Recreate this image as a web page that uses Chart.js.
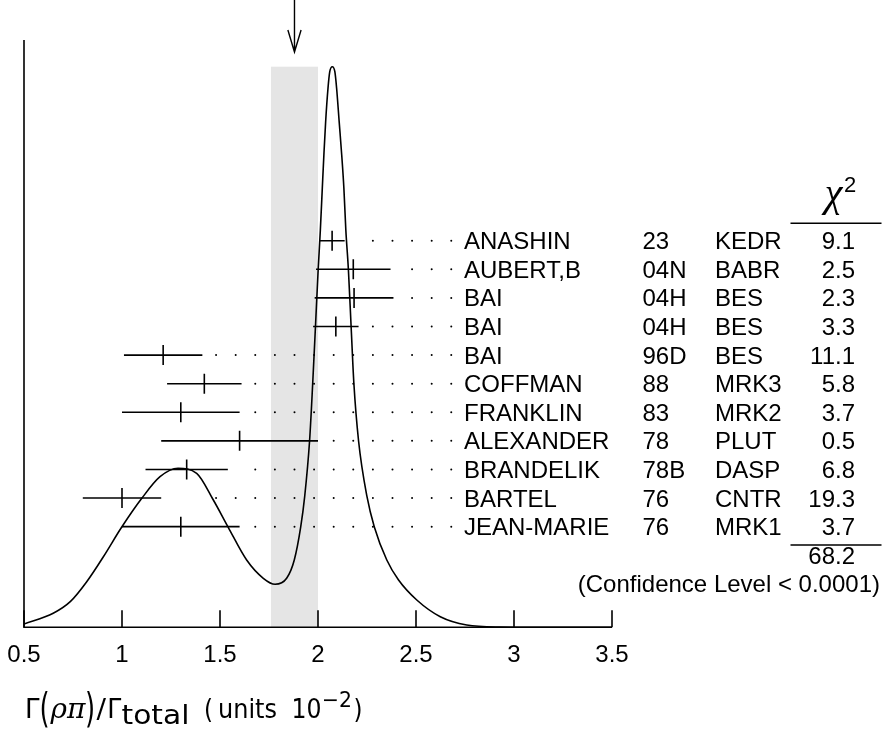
<!DOCTYPE html>
<html>
<head>
<meta charset="utf-8">
<script src="https://cdn.jsdelivr.net/npm/chart.js@4/dist/chart.umd.min.js"></script>
<style>
  html, body { margin: 0; padding: 0; background: #fff; }
  canvas { display: block; }
</style>
</head>
<body>
<canvas id="c" width="883" height="733"></canvas>
<script>
// Measurements of Γ(ρπ)/Γtotal, in units of 10^-2
const AUTHORS = ['ANASHIN', 'AUBERT,B', 'BAI', 'BAI', 'BAI', 'COFFMAN', 'FRANKLIN', 'ALEXANDER', 'BRANDELIK', 'BARTEL', 'JEAN-MARIE'];
const YEARS   = ['23', '04N', '04H', '04H', '96D', '88', '83', '78', '78B', '76', '76'];
const EXPTS   = ['KEDR', 'BABR', 'BES', 'BES', 'BES', 'MRK3', 'MRK2', 'PLUT', 'DASP', 'CNTR', 'MRK1'];
const VALUES  = [2.072, 2.18, 2.184, 2.091, 1.21, 1.42, 1.30, 1.60, 1.33, 1.00, 1.30];
const ERRORS  = [0.064, 0.19, 0.201, 0.116, 0.20, 0.19, 0.30, 0.40, 0.21, 0.20, 0.30];
const CHI2    = ['9.1', '2.5', '2.3', '3.3', '11.1', '5.8', '3.7', '0.5', '6.8', '19.3', '3.7'];
const CHI2_TOTAL = '68.2';
const CONFIDENCE = '(Confidence Level < 0.0001)';

// Weighted average and its (scaled) error
const AVERAGE = 1.88;
const AVERAGE_ERR = 0.12;

// Ideogram curve (relative height, peak = 100)
const CURVE_X = [0.500, 0.649, 0.736, 0.820, 0.905, 0.998, 1.101, 1.194, 1.286, 1.381, 1.466, 1.542, 1.636, 1.721, 1.781, 1.840,
                 1.879, 1.912, 1.932, 1.957, 1.973, 1.987, 2.001, 2.012, 2.022, 2.030, 2.039, 2.051, 2.060, 2.073,
                 2.086, 2.095, 2.108, 2.121, 2.132, 2.142, 2.155, 2.169, 2.183, 2.207, 2.250, 2.287, 2.351, 2.411,
                 2.504, 2.624, 2.759, 2.930, 3.185, 3.500];
const CURVE_Y = [0.59, 2.50, 4.57, 8.13, 12.59, 17.84, 23.01, 26.86, 28.36, 27.47, 22.71, 17.84, 12.00, 8.74, 7.67, 8.74,
                 12.00, 17.95, 23.30, 33.23, 43.52, 53.62, 63.86, 70.87, 78.36, 84.25, 90.19, 96.15, 99.11, 100.00,
                 99.11, 96.15, 90.19, 84.25, 78.36, 70.87, 63.86, 53.62, 43.52, 33.23, 23.30, 17.95, 12.00, 8.44,
                 4.87, 1.89, 0.41, 0.05, 0.00, 0.00];

const X_TICKS = [0.5, 1, 1.5, 2, 2.5, 3, 3.5];
const X_TICK_LABELS = ['0.5', '1', '1.5', '2', '2.5', '3', '3.5'];

// Leader-dot grid (0.1 spacing)
const DOT_FIRST = 1.48, DOT_LAST = 2.68, DOT_STEP = 0.1, DOT_GAP = 0.06;

const INK = '#000';
const LW = 1.6;
const SANS = '"Liberation Sans", Arial, Helvetica, sans-serif';

const rows = AUTHORS.map((_, i) => i);

const errorBarSets = rows.map(i => ({
  data: [{ x: VALUES[i] - ERRORS[i], y: i }, { x: VALUES[i] + ERRORS[i], y: i }],
  yAxisID: 'row', showLine: true, borderColor: INK, borderWidth: LW,
  pointRadius: 0, pointHoverRadius: 0
}));

const leaderDots = [];
rows.forEach(i => {
  const hi = VALUES[i] + ERRORS[i];
  for (let k = 0; ; k++) {
    const v = +(DOT_FIRST + DOT_STEP * k).toFixed(2);
    if (v > DOT_LAST + 1e-9) break;
    if (v >= hi + DOT_GAP) leaderDots.push({ x: v, y: i });
  }
});

// draw text squeezed or stretched horizontally to a given width
function fitText(ctx, text, x, y, width) {
  const w = ctx.measureText(text).width;
  ctx.save();
  ctx.translate(x, y);
  ctx.scale(width / w, 1);
  ctx.fillText(text, 0, 0);
  ctx.restore();
}

// tall, thin delimiter
function tallText(ctx, text, cx, y, sy) {
  ctx.save();
  ctx.translate(cx, y);
  ctx.scale(1, sy);
  ctx.textAlign = 'center';
  ctx.fillText(text, 0, 0);
  ctx.restore();
}

const decor = {
  id: 'ideogramDecor',
  beforeDatasetsDraw(chart) {
    const { ctx, scales: { x, y } } = chart;
    const x0 = x.getPixelForValue(AVERAGE - AVERAGE_ERR);
    const x1 = x.getPixelForValue(AVERAGE + AVERAGE_ERR);
    const top = y.getPixelForValue(Math.max(...CURVE_Y));
    const bottom = y.getPixelForValue(0);
    ctx.save();
    ctx.fillStyle = '#e5e5e5';
    ctx.fillRect(x0, top, x1 - x0, bottom - top);
    ctx.restore();
  },
  afterDatasetsDraw(chart) {
    const { ctx, chartArea: a, scales: { x, y } } = chart;
    const y0 = y.getPixelForValue(0);
    const xl = x.getPixelForValue(X_TICKS[0]);
    const xr = x.getPixelForValue(X_TICKS[X_TICKS.length - 1]);
    ctx.save();
    ctx.strokeStyle = INK;
    ctx.lineWidth = LW;
    ctx.lineCap = 'butt';
    // axes
    ctx.beginPath();
    ctx.moveTo(xl, a.top);
    ctx.lineTo(xl, y0);
    ctx.lineTo(xr, y0);
    ctx.stroke();
    // inward ticks
    ctx.beginPath();
    X_TICKS.forEach(t => {
      const px = x.getPixelForValue(t);
      ctx.moveTo(px, y0);
      ctx.lineTo(px, y0 - 17);
    });
    ctx.stroke();
    // tick labels
    ctx.fillStyle = INK;
    ctx.font = '24px ' + SANS;
    ctx.textAlign = 'center';
    ctx.textBaseline = 'alphabetic';
    X_TICKS.forEach((t, i) => ctx.fillText(X_TICK_LABELS[i], x.getPixelForValue(t), y0 + 35));
    // arrow marking the average
    const ax = x.getPixelForValue(AVERAGE);
    const tip = a.top + 12;
    ctx.lineWidth = 1.4;
    ctx.beginPath();
    ctx.moveTo(ax, 0);
    ctx.lineTo(ax, tip);
    ctx.moveTo(ax - 6.6, tip - 22);
    ctx.lineTo(ax, tip);
    ctx.lineTo(ax + 6.6, tip - 22);
    ctx.stroke();
    ctx.restore();
  },
  afterDraw(chart) {
    const { ctx, scales: { row } } = chart;
    const ry = r => row.getPixelForValue(r);
    ctx.save();
    ctx.fillStyle = INK;
    ctx.strokeStyle = INK;
    ctx.textBaseline = 'alphabetic';
    ctx.font = '24px ' + SANS;
    rows.forEach(i => {
      const by = ry(i) + 8.5;
      ctx.textAlign = 'left';
      ctx.fillText(AUTHORS[i], 464, by);
      ctx.fillText(YEARS[i], 642.5, by);
      ctx.fillText(EXPTS[i], 715, by);
      ctx.textAlign = 'right';
      ctx.fillText(CHI2[i], 855, by);
    });
    ctx.textAlign = 'right';
    ctx.fillText(CHI2_TOTAL, 855, ry(11) + 8.5);
    ctx.fillText(CONFIDENCE, 880, ry(12) + 8.5);
    // column rules
    ctx.lineWidth = 1.4;
    ctx.beginPath();
    ctx.moveTo(790.5, ry(0) - 17.4);
    ctx.lineTo(881.5, ry(0) - 17.4);
    ctx.moveTo(790.5, ry(10) + 18.3);
    ctx.lineTo(881.5, ry(10) + 18.3);
    ctx.stroke();
    // chi-squared heading
    ctx.textAlign = 'center';
    ctx.font = 'italic 40px "Liberation Serif", "DejaVu Serif", serif';
    ctx.fillText('χ', 833.5, ry(0) - 35);
    ctx.textAlign = 'left';
    ctx.font = '22px ' + SANS;
    ctx.fillText('2', 844, ry(0) - 49);

    // axis title
    const T = '26px "DejaVu Sans", sans-serif';
    const base = 718.3;
    ctx.textAlign = 'left';
    ctx.font = T;
    fitText(ctx, 'Γ', 25, base, 14.5);
    tallText(ctx, '(', 44.5, 722, 1.55);
    tallText(ctx, ')', 90, 722, 1.55);
    ctx.textAlign = 'left';
    ctx.font = 'italic 28px "DejaVu Serif", serif';
    fitText(ctx, 'ρπ', 50.5, base, 35);
    ctx.font = T;
    fitText(ctx, '/', 96.5, base, 9.5);
    fitText(ctx, 'Γ', 107.3, base, 14);
    fitText(ctx, 'total', 121.5, 723.5, 68);
    fitText(ctx, '(', 204, base, 9);
    fitText(ctx, 'units', 218, base, 59);
    fitText(ctx, '10', 291.5, base, 30);
    ctx.font = '21px "DejaVu Sans", sans-serif';
    fitText(ctx, '−2', 322, 706.5, 30);
    ctx.font = T;
    fitText(ctx, ')', 353.5, base, 9);
    ctx.restore();
  }
};

new Chart(document.getElementById('c'), {
  type: 'scatter',
  data: {
    datasets: [
      {
        data: CURVE_X.map((v, i) => ({ x: v, y: CURVE_Y[i] })),
        yAxisID: 'y', showLine: true, borderColor: INK, borderWidth: LW,
        cubicInterpolationMode: 'monotone', pointRadius: 0, pointHoverRadius: 0, fill: false
      },
      ...errorBarSets,
      {
        data: VALUES.map((v, i) => ({ x: v, y: i })),
        yAxisID: 'row', pointStyle: 'line', rotation: 90, pointRadius: 10, pointHoverRadius: 10,
        borderColor: INK, borderWidth: LW, backgroundColor: INK
      },
      {
        data: leaderDots,
        yAxisID: 'row', pointStyle: 'circle', pointRadius: 1, pointHoverRadius: 1,
        borderWidth: 0, backgroundColor: INK
      }
    ]
  },
  options: {
    responsive: false,
    animation: false,
    devicePixelRatio: 1,
    events: [],
    layout: { padding: { left: 24, right: 271, top: 40, bottom: 105.7 } },
    plugins: { legend: { display: false }, tooltip: { enabled: false } },
    scales: {
      x: { type: 'linear', axis: 'x', position: 'bottom', min: 0.5, max: 3.5, display: false },
      y: { type: 'linear', axis: 'y', position: 'left', min: 0, max: 104.76, display: false },
      row: { type: 'linear', axis: 'y', position: 'left', min: -7.02, max: 13.52, reverse: true, display: false }
    }
  },
  plugins: [decor]
});
</script>
</body>
</html>
